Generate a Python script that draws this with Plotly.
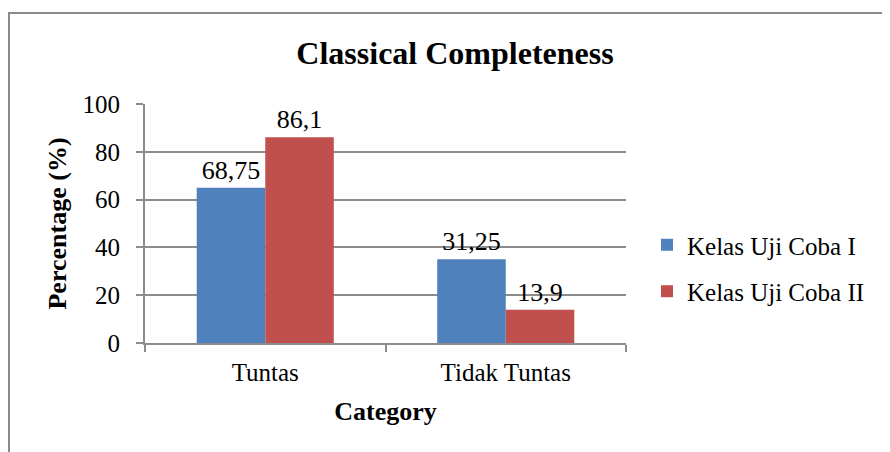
import plotly.graph_objects as go

categories = ["Tuntas", "Tidak Tuntas"]
series_names = ["Kelas Uji Coba I", "Kelas Uji Coba II"]
# bar heights as drawn in the picture
kelas1_values = [65, 35]
kelas2_values = [86.1, 13.9]
# value labels as printed above the bars
kelas1_labels = ["68,75", "31,25"]
kelas2_labels = ["86,1", "13,9"]
y_ticks = [0, 20, 40, 60, 80, 100]

OFF = 8  # page body margin
W, H = 890 - OFF, 452 - OFF
L, R, T, B = 145 - OFF, 626 - OFF, 104 - OFF, 343 - OFF  # plot area in figure pixels
FONT = "Liberation Serif"
GRID = "#8c8c8c"

def px_x(x):
    return (x - OFF - L) / (R - L)

def px_y(y):
    return (B - (y - OFF)) / (B - T)

fig = go.Figure()
fig.add_trace(go.Bar(
    x=categories, y=kelas1_values, name=series_names[0],
    text=kelas1_labels, textposition="outside", cliponaxis=False,
    marker=dict(color="#4F81BD", line=dict(width=0)),
    textfont=dict(family=FONT, size=26, color="#000"),
    legendgroup="a",
))
fig.add_trace(go.Bar(
    x=categories, y=kelas2_values, name=series_names[1],
    text=kelas2_labels, textposition="outside", cliponaxis=False,
    marker=dict(color="#C0504D", line=dict(width=0)),
    textfont=dict(family=FONT, size=26, color="#000"),
    legendgroup="b",
))

fig.update_layout(
    width=W, height=H,
    margin=dict(l=L, r=W - R, t=T, b=H - B, autoexpand=False),
    paper_bgcolor="white", plot_bgcolor="white",
    font=dict(family=FONT, color="#000"),
    barmode="group", bargap=0.43, bargroupgap=0,
    title=dict(
        text="Classical Completeness",
        font=dict(family=FONT, size=32, weight="bold", color="#000"),
        x=(455 - OFF) / W, xanchor="center", xref="container",
        y=1 - (53 - OFF) / H, yanchor="middle", yref="container",
    ),
    legend=dict(
        x=px_x(647), xanchor="left", y=px_y(222), yanchor="top",
        font=dict(family=FONT, size=25, color="#000"),
        tracegroupgap=11, itemwidth=30, bgcolor="rgba(0,0,0,0)",
    ),
    xaxis=dict(
        type="category", showline=True, linecolor=GRID, linewidth=2,
        ticks="outside", tickson="boundaries", ticklen=7, tickcolor=GRID, tickwidth=2,
        ticklabelstandoff=6,
        tickfont=dict(family=FONT, size=25, color="#000"),
        title=dict(text="Category", font=dict(family=FONT, size=26, weight="bold", color="#000"), standoff=17),
        showgrid=False,
    ),
    yaxis=dict(
        range=[0, 100], tickvals=y_ticks, showline=True, linecolor=GRID, linewidth=2,
        ticks="outside", ticklen=7, tickcolor=GRID, tickwidth=2,
        ticklabelstandoff=11,
        showgrid=True, gridcolor=GRID, gridwidth=1.6, zeroline=False,
        tickfont=dict(family=FONT, size=25, color="#000"),
        title=dict(text="Percentage (%)", font=dict(family=FONT, size=26, weight="bold", color="#000"), standoff=8),
    ),
    shapes=[dict(
        type="rect", xref="paper", yref="paper",
        x0=px_x(9), x1=px_x(890 + 20), y0=px_y(452 + 20), y1=px_y(13),
        line=dict(color="#8a8a8a", width=2), fillcolor="rgba(0,0,0,0)", layer="below",
    )],
)

fig.write_html("out.html")
